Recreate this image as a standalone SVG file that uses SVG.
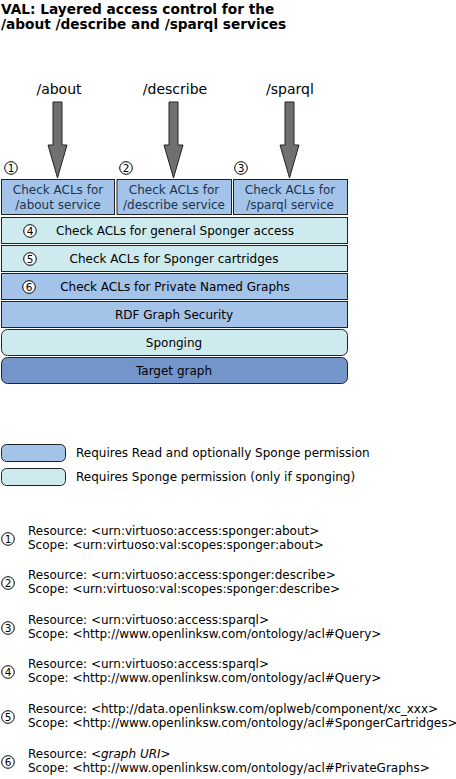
<svg xmlns="http://www.w3.org/2000/svg" width="456" height="779" viewBox="0 0 456 779">
<defs>
<style>
text{font-family:"DejaVu Sans","Liberation Sans",sans-serif;fill:#000}
.title{font-weight:bold;font-size:13.7px}
.lbl{font-size:14px;text-anchor:middle}
.bt{font-size:12px;text-anchor:middle;fill:#1c3550}
.rt{font-size:12px;text-anchor:middle}
.leg{font-size:12px}
.ref{font-size:12px}
.blue{fill:#a4c3e9;stroke:#222;stroke-width:1}
.cyan{fill:#cdeaee;stroke:#222;stroke-width:1}
.dark{fill:#7395c9;stroke:#222;stroke-width:1}
.arr{fill:#707070;stroke:#222;stroke-width:1}
.cn{fill:#fff;stroke:#000;stroke-width:1}
.num{font-size:10.5px;text-anchor:middle}
</style>
<g id="circ"><circle class="cn" r="6.3"/></g>
</defs>
<text class="title" x="1" y="14">VAL: Layered access control for the</text>
<text class="title" x="1" y="29">/about /describe and /sparql services</text>

<g id="connectors">
<text class="lbl" x="59" y="94">/about</text>
<text class="lbl" x="175" y="94">/describe</text>
<text class="lbl" x="290" y="94">/sparql</text>
<path class="arr" d="M53,102 H62 V145 H67 L57.5,178 L48,145 H53 Z"/>
<path class="arr" d="M169,102 H178 V145 H183 L173.5,178 L164,145 H169 Z"/>
<path class="arr" d="M285,102 H294 V145 H299 L289.5,178 L280,145 H285 Z"/>
</g>

<g id="n1"><use href="#circ" x="11" y="168"/><text class="num" x="11" y="171.8">1</text>
<rect class="blue" x="1.5" y="179.5" width="113" height="35"/>
<text class="bt" x="58" y="194">Check ACLs for</text><text class="bt" x="58" y="209">/about service</text></g>
<g id="n2"><use href="#circ" x="126" y="168"/><text class="num" x="126" y="171.8">2</text>
<rect class="blue" x="117" y="179.5" width="114.5" height="35"/>
<text class="bt" x="174" y="194">Check ACLs for</text><text class="bt" x="174" y="209">/describe service</text></g>
<g id="n3"><use href="#circ" x="241" y="168"/><text class="num" x="241" y="171.8">3</text>
<rect class="blue" x="233.5" y="179.5" width="114" height="35"/>
<text class="bt" x="290" y="194">Check ACLs for</text><text class="bt" x="290" y="209">/sparql service</text></g>

<g id="n4"><rect class="cyan" x="1.5" y="217.5" width="346" height="26"/>
<use href="#circ" x="30" y="231"/><text class="num" x="30" y="234.8">4</text>
<text class="rt" x="175" y="234.5">Check ACLs for general Sponger access</text></g>
<g id="n5"><rect class="cyan" x="1.5" y="245.5" width="346" height="26"/>
<use href="#circ" x="30" y="259"/><text class="num" x="30" y="262.8">5</text>
<text class="rt" x="174" y="262.5">Check ACLs for Sponger cartridges</text></g>
<g id="n6"><rect class="blue" x="1.5" y="273.5" width="346" height="26"/>
<use href="#circ" x="29" y="287"/><text class="num" x="29" y="290.8">6</text>
<text class="rt" x="175" y="290.5">Check ACLs for Private Named Graphs</text></g>
<g id="n7"><rect class="blue" x="1.5" y="301.5" width="346" height="26"/>
<text class="rt" x="174" y="318.5">RDF Graph Security</text></g>
<g id="n8"><rect class="cyan" x="1.5" y="329.5" width="346" height="26" rx="6"/>
<text class="rt" x="174" y="346.5">Sponging</text></g>
<g id="n9"><rect class="dark" x="1.5" y="357.5" width="346" height="26" rx="6"/>
<text class="rt" x="174" y="374.5">Target graph</text></g>

<g id="legend">
<rect class="blue" x="1.5" y="444.5" width="64" height="17" rx="5"/>
<text class="leg" x="76" y="456.5">Requires Read and optionally Sponge permission</text>
<rect class="cyan" x="1.5" y="468.5" width="64" height="17" rx="5"/>
<text class="leg" x="76" y="480.5">Requires Sponge permission (only if sponging)</text>
</g>

<g id="refs">
<use href="#circ" x="8" y="539"/><text class="num" x="8" y="542.8">1</text>
<text class="ref" x="28" y="535">Resource: &lt;urn:virtuoso:access:sponger:about&gt;</text>
<text class="ref" x="28" y="548.5">Scope: &lt;urn:virtuoso:val:scopes:sponger:about&gt;</text>
<use href="#circ" x="8" y="583"/><text class="num" x="8" y="586.8">2</text>
<text class="ref" x="28" y="579">Resource: &lt;urn:virtuoso:access:sponger:describe&gt;</text>
<text class="ref" x="28" y="592.5">Scope: &lt;urn:virtuoso:val:scopes:sponger:describe&gt;</text>
<use href="#circ" x="8" y="628"/><text class="num" x="8" y="631.8">3</text>
<text class="ref" x="28" y="624">Resource: &lt;urn:virtuoso:access:sparql&gt;</text>
<text class="ref" x="28" y="637.5">Scope: &lt;http://www.openlinksw.com/ontology/acl#Query&gt;</text>
<use href="#circ" x="8" y="672"/><text class="num" x="8" y="675.8">4</text>
<text class="ref" x="28" y="668">Resource: &lt;urn:virtuoso:access:sparql&gt;</text>
<text class="ref" x="28" y="681.5">Scope: &lt;http://www.openlinksw.com/ontology/acl#Query&gt;</text>
<use href="#circ" x="8" y="717"/><text class="num" x="8" y="720.8">5</text>
<text class="ref" x="28" y="713">Resource: &lt;http://data.openlinksw.com/oplweb/component/xc_xxx&gt;</text>
<text class="ref" x="28" y="726.5">Scope: &lt;http://www.openlinksw.com/ontology/acl#SpongerCartridges&gt;</text>
<use href="#circ" x="8" y="762"/><text class="num" x="8" y="765.8">6</text>
<text class="ref" x="28" y="758">Resource: <tspan font-style="italic">&lt;graph URI&gt;</tspan></text>
<text class="ref" x="28" y="771.5">Scope: &lt;http://www.openlinksw.com/ontology/acl#PrivateGraphs&gt;</text>
</g>
</svg>
